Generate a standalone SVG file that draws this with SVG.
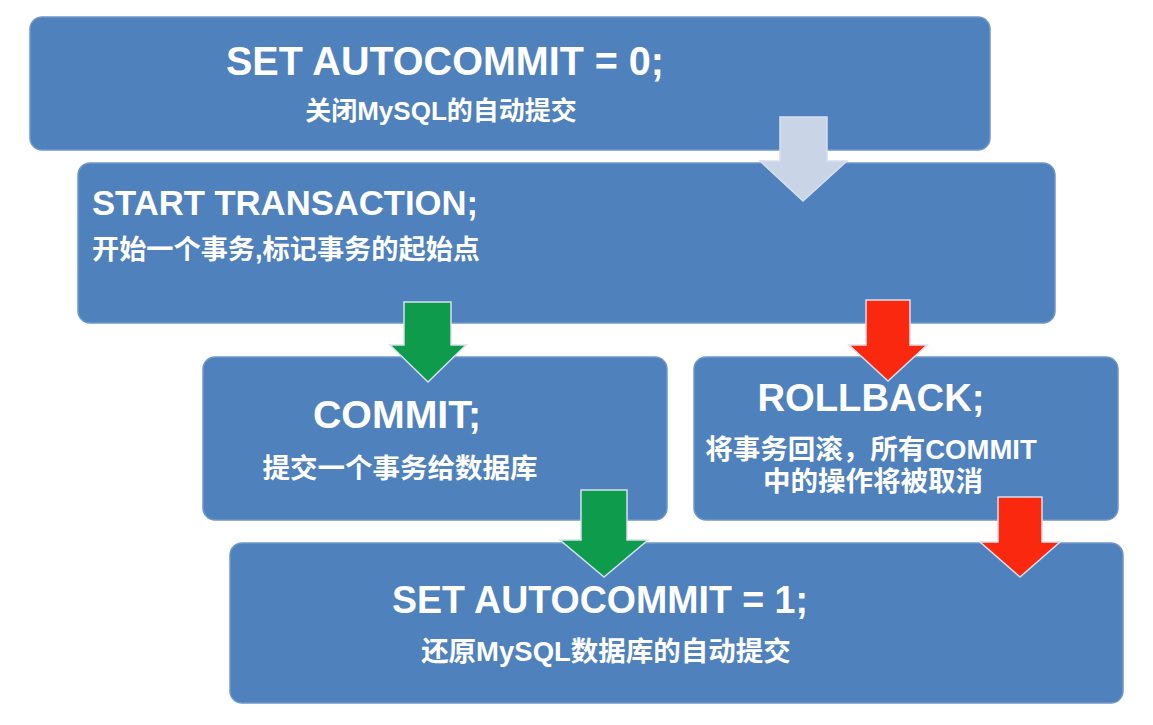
<svg xmlns="http://www.w3.org/2000/svg" width="1153" height="725" viewBox="0 0 1153 725">
<style>
.box{fill:#4f81bd;stroke:#6f98cc;stroke-width:1.5}
.t{font-family:"Liberation Sans","Noto Sans CJK SC",sans-serif;font-weight:bold;fill:#ffffff}
.arrow{stroke:#d6e0ee;stroke-width:1.5;stroke-linejoin:miter}
.gray{fill:#c9d4e6}
.green{fill:#0f9b4c}
.red{fill:#f9280f}
</style>
<rect x="0" y="0" width="1153" height="725" fill="#ffffff"/>
<g id="node-set-autocommit-0">
<rect class="box" x="30" y="17" width="960" height="133" rx="12"/>
<text class="t" x="445" y="75" font-size="40" text-anchor="middle" textLength="438" lengthAdjust="spacingAndGlyphs">SET AUTOCOMMIT = 0;</text>
<text class="t" x="441" y="120" font-size="26" text-anchor="middle">关闭MySQL的自动提交</text>
</g>
<g id="node-start-transaction">
<rect class="box" x="78" y="163" width="977" height="160" rx="12"/>
<text class="t" x="92" y="215" font-size="35" textLength="386" lengthAdjust="spacingAndGlyphs">START TRANSACTION;</text>
<text class="t" x="92" y="259" font-size="27" textLength="388" lengthAdjust="spacingAndGlyphs">开始一个事务,标记事务的起始点</text>
</g>
<g id="node-commit">
<rect class="box" x="203" y="357" width="464" height="163" rx="12"/>
<text class="t" x="397" y="428" font-size="39" text-anchor="middle" textLength="168" lengthAdjust="spacingAndGlyphs">COMMIT;</text>
<text class="t" x="400" y="478" font-size="27.5" text-anchor="middle">提交一个事务给数据库</text>
</g>
<g id="node-rollback">
<rect class="box" x="694" y="357" width="424" height="163" rx="12"/>
<text class="t" x="871" y="411" font-size="39" text-anchor="middle" textLength="227" lengthAdjust="spacingAndGlyphs">ROLLBACK;</text>
<text class="t" x="871" y="459" font-size="27.5" text-anchor="middle">将事务回滚，所有COMMIT</text>
<text class="t" x="873" y="491" font-size="27.5" text-anchor="middle">中的操作将被取消</text>
</g>
<g id="node-set-autocommit-1">
<rect class="box" x="230" y="543" width="893" height="160" rx="12"/>
<text class="t" x="600" y="613" font-size="39" text-anchor="middle" textLength="416" lengthAdjust="spacingAndGlyphs">SET AUTOCOMMIT = 1;</text>
<text class="t" x="606" y="661" font-size="27.5" text-anchor="middle">还原MySQL数据库的自动提交</text>
</g>
<g id="connectors">
<polygon class="arrow gray" points="780,117 827,117 827,161 847,161 803,201 760,161 780,161"/>
<polygon class="arrow green" points="404,302 451,302 451,345 466,345 428,382 390,345 404,345"/>
<polygon class="arrow red" points="866,300 910,300 910,345 927,345 888,381 849,345 866,345"/>
<polygon class="arrow green" points="581,490 627,490 627,540 648,540 604,577 560,540 581,540"/>
<polygon class="arrow red" points="998,497 1042,497 1042,542 1060,542 1020,577 980,542 998,542"/>
</g>
</svg>
